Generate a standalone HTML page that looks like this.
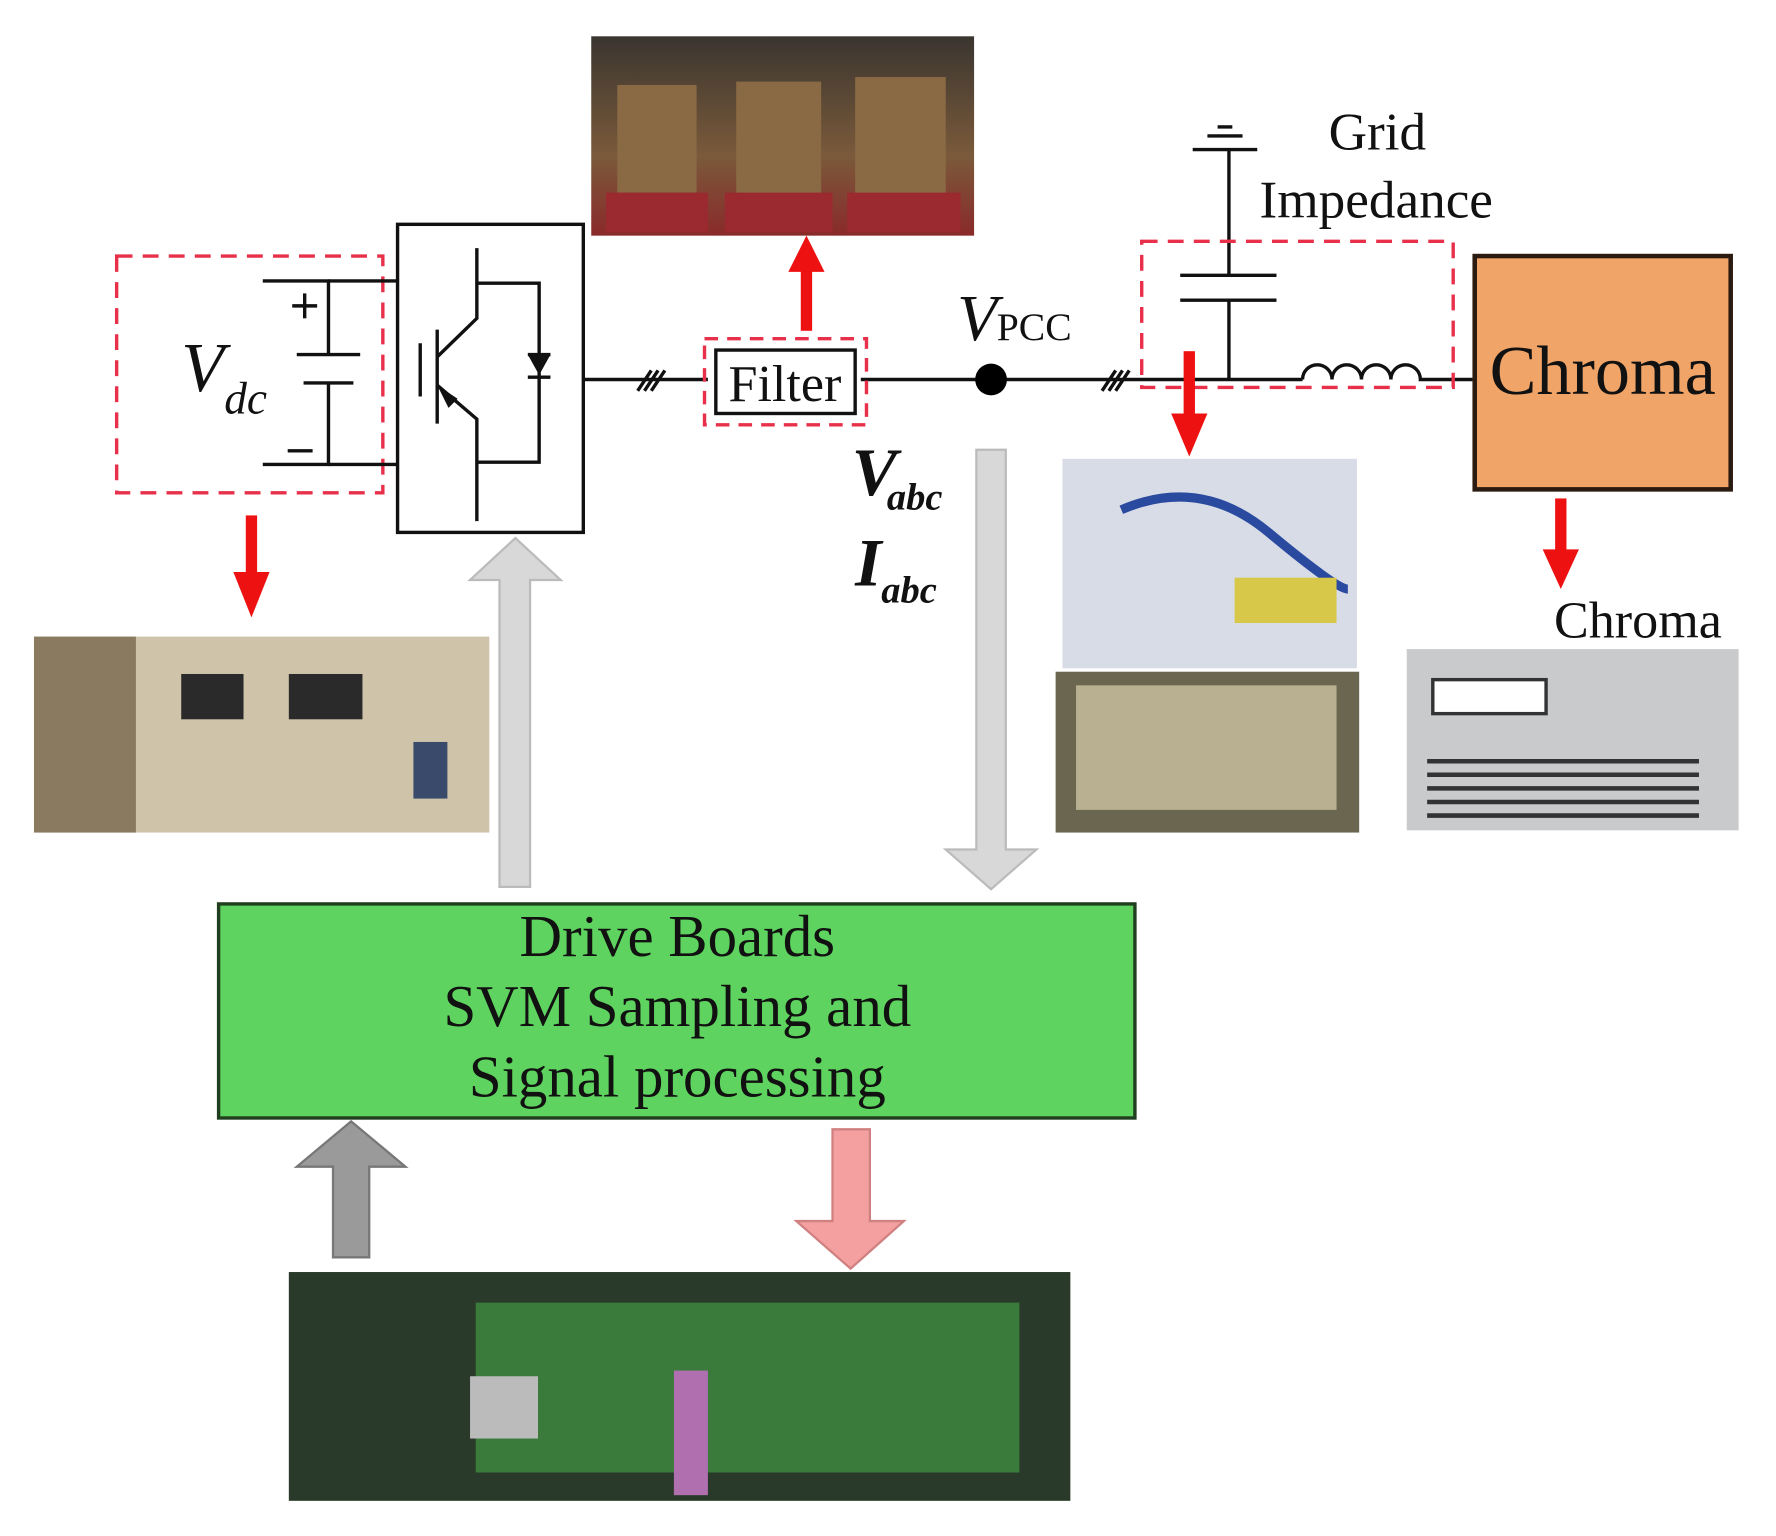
<!DOCTYPE html>
<html><head><meta charset="utf-8"><style>
html,body{margin:0;padding:0;background:#fff;}
svg{display:block;}
text{font-family:"Liberation Serif",serif;fill:#111;}
</style></head><body>
<svg width="1776" height="1536" viewBox="0 0 1568 1356" xmlns="http://www.w3.org/2000/svg">
<rect width="1568" height="1356" fill="#fff"/>
<defs>
<linearGradient id="ind" x1="0" y1="0" x2="0" y2="1"><stop offset="0" stop-color="#3a3530"/><stop offset="0.6" stop-color="#7a5a3a"/><stop offset="1" stop-color="#8a2a2a"/></linearGradient>
</defs>
<rect x="522" y="32" width="338" height="176" fill="url(#ind)"/>
<rect x="545" y="75" width="70" height="95" fill="#8a6a45"/><rect x="650" y="72" width="75" height="100" fill="#8a6a45"/><rect x="755" y="68" width="80" height="105" fill="#8a6a45"/>
<rect x="535" y="170" width="90" height="35" fill="#9a2a30"/><rect x="640" y="170" width="95" height="35" fill="#9a2a30"/><rect x="748" y="170" width="100" height="35" fill="#9a2a30"/>
<rect x="30" y="562" width="402" height="173" fill="#cfc4aa"/>
<rect x="30" y="562" width="90" height="173" fill="#8a7a60"/>
<rect x="160" y="595" width="55" height="40" fill="#2a2a2a"/><rect x="255" y="595" width="65" height="40" fill="#2a2a2a"/>
<rect x="365" y="655" width="30" height="50" fill="#3a4a6a"/>
<rect x="938" y="405" width="260" height="185" fill="#d8dce6"/>
<path d="M990 450 Q1060 420 1120 470 T1190 520" stroke="#2a4aa0" stroke-width="8" fill="none"/>
<rect x="1090" y="510" width="90" height="40" fill="#d8c84a"/>
<rect x="932" y="593" width="268" height="142" fill="#6a6650"/>
<rect x="950" y="605" width="230" height="110" fill="#b8b090"/>
<rect x="1242" y="573" width="293" height="160" fill="#c8cacc"/>
<rect x="1265" y="600" width="100" height="30" fill="#fff" stroke="#333" stroke-width="3"/>
<g stroke="#333" stroke-width="4"><line x1="1260" y1="672" x2="1500" y2="672"/><line x1="1260" y1="684" x2="1500" y2="684"/><line x1="1260" y1="696" x2="1500" y2="696"/><line x1="1260" y1="708" x2="1500" y2="708"/><line x1="1260" y1="720" x2="1500" y2="720"/></g>
<rect x="255" y="1123" width="690" height="202" fill="#2a3a2a"/>
<rect x="420" y="1150" width="480" height="150" fill="#3a7a3a"/>
<rect x="415" y="1215" width="60" height="55" fill="#bbb"/>
<rect x="595" y="1210" width="30" height="110" fill="#b070b0"/>
<rect x="103" y="226" width="235" height="209" fill="none" stroke="#e8304a" stroke-width="3" stroke-dasharray="14,9"/>
<g stroke="#111" stroke-width="3" fill="none">
<polyline points="232,248 290,248 290,313"/><line x1="262" y1="313" x2="318" y2="313"/><line x1="268" y1="338" x2="312" y2="338"/>
<polyline points="290,338 290,410 232,410"/><line x1="290" y1="248" x2="350" y2="248"/><line x1="290" y1="410" x2="350" y2="410"/>
<line x1="258" y1="270" x2="280" y2="270"/><line x1="269" y1="259" x2="269" y2="281"/><line x1="254" y1="398" x2="276" y2="398"/>
</g>
<text x="160" y="345" font-size="62" font-style="italic">V</text><text x="198" y="365" font-size="40" font-style="italic">dc</text>
<rect x="351" y="198" width="164" height="272" fill="#fff" stroke="#111" stroke-width="3"/>
<g stroke="#111" stroke-width="3" fill="none">
<polyline points="421,219 421,281 386,315"/><line x1="386" y1="291" x2="386" y2="374"/><line x1="371" y1="303" x2="371" y2="350"/>
<polyline points="386,340 421,370 421,460"/><polyline points="421,250 476,250 476,408 421,408"/>
<line x1="466" y1="313" x2="486" y2="313"/><line x1="466" y1="333" x2="486" y2="333"/>
<line x1="515" y1="335" x2="625" y2="335"/><line x1="760" y1="335" x2="862" y2="335"/><line x1="888" y1="335" x2="1150" y2="335"/>
<path d="M1150 335 A13 13 0 0 1 1176 335 A13 13 0 0 1 1202 335 A13 13 0 0 1 1228 335 A13 13 0 0 1 1254 335 L1300 335"/>
<line x1="1085" y1="132" x2="1085" y2="243"/><line x1="1042" y1="243" x2="1127" y2="243"/><line x1="1042" y1="265" x2="1127" y2="265"/><line x1="1085" y1="265" x2="1085" y2="335"/>
<line x1="1053" y1="132" x2="1110" y2="132"/><line x1="1066" y1="120" x2="1097" y2="120"/><line x1="1075" y1="112" x2="1088" y2="112"/>
<line x1="563" y1="345" x2="575" y2="327"/><line x1="569" y1="345" x2="581" y2="327"/><line x1="575" y1="345" x2="587" y2="327"/>
<line x1="973" y1="345" x2="985" y2="327"/><line x1="979" y1="345" x2="991" y2="327"/><line x1="985" y1="345" x2="997" y2="327"/>
</g>
<path d="M466 313 L486 313 L476 331 Z" fill="#111"/>
<path d="M386 340 L404 352 L396 360 Z" fill="#111"/>
<rect x="622" y="299" width="143" height="76" fill="none" stroke="#e8304a" stroke-width="3" stroke-dasharray="12,8"/>
<rect x="632" y="309" width="123" height="56" fill="#fff" stroke="#111" stroke-width="3"/>
<text x="693" y="354" font-size="46" text-anchor="middle">Filter</text>
<circle cx="875" cy="335" r="14" fill="#000"/>
<text x="845" y="300" font-size="58" font-style="italic">V</text><text x="880" y="300" font-size="35">PCC</text>
<rect x="1008" y="213" width="275" height="129" fill="none" stroke="#e8304a" stroke-width="3" stroke-dasharray="14,9"/>
<text x="1173" y="132" font-size="47">Grid</text>
<text x="1112" y="192" font-size="47">Impedance</text>
<rect x="1302" y="226" width="226" height="206" fill="#f0a468" stroke="#2a1a10" stroke-width="4"/>
<text x="1415" y="348" font-size="62" text-anchor="middle">Chroma</text>
<text x="1372" y="563" font-size="46">Chroma</text>
<g fill="#ee1111">
<rect x="707" y="235" width="10" height="57"/><path d="M696 240 L712 208 L728 240 Z"/>
<rect x="1045" y="310" width="10" height="60"/><path d="M1034 365 L1050 403 L1066 365 Z"/>
<rect x="217" y="455" width="10" height="55"/><path d="M206 505 L222 545 L238 505 Z"/>
<rect x="1373" y="440" width="10" height="50"/><path d="M1362 485 L1378 520 L1394 485 Z"/>
</g>
<path d="M441 783 L441 512 L415 512 L455 475 L495 512 L468 512 L468 783 Z" fill="#d8d8d8" stroke="#bbb" stroke-width="2"/>
<path d="M862 397 L888 397 L888 750 L915 750 L875 785 L835 750 L862 750 Z" fill="#d8d8d8" stroke="#bbb" stroke-width="2"/>
<text x="752" y="437" font-size="60" font-style="italic" font-weight="bold">V</text><text x="783" y="450" font-size="34" font-style="italic" font-weight="bold">abc</text>
<text x="755" y="517" font-size="60" font-style="italic" font-weight="bold">I</text><text x="778" y="532" font-size="34" font-style="italic" font-weight="bold">abc</text>
<rect x="193" y="798" width="809" height="189" fill="#5fd35f" stroke="#1f3f1f" stroke-width="3"/>
<text x="598" y="844" font-size="52" text-anchor="middle">Drive Boards</text>
<text x="598" y="906" font-size="52" text-anchor="middle">SVM Sampling and</text>
<text x="598" y="968" font-size="52" text-anchor="middle">Signal processing</text>
<path d="M294 1110 L294 1030 L262 1030 L310 990 L358 1030 L326 1030 L326 1110 Z" fill="#9a9a9a" stroke="#777" stroke-width="2"/>
<path d="M735 997 L768 997 L768 1078 L798 1078 L751 1120 L703 1078 L735 1078 Z" fill="#f4a0a0" stroke="#d08080" stroke-width="2"/>
</svg>
</body></html>
